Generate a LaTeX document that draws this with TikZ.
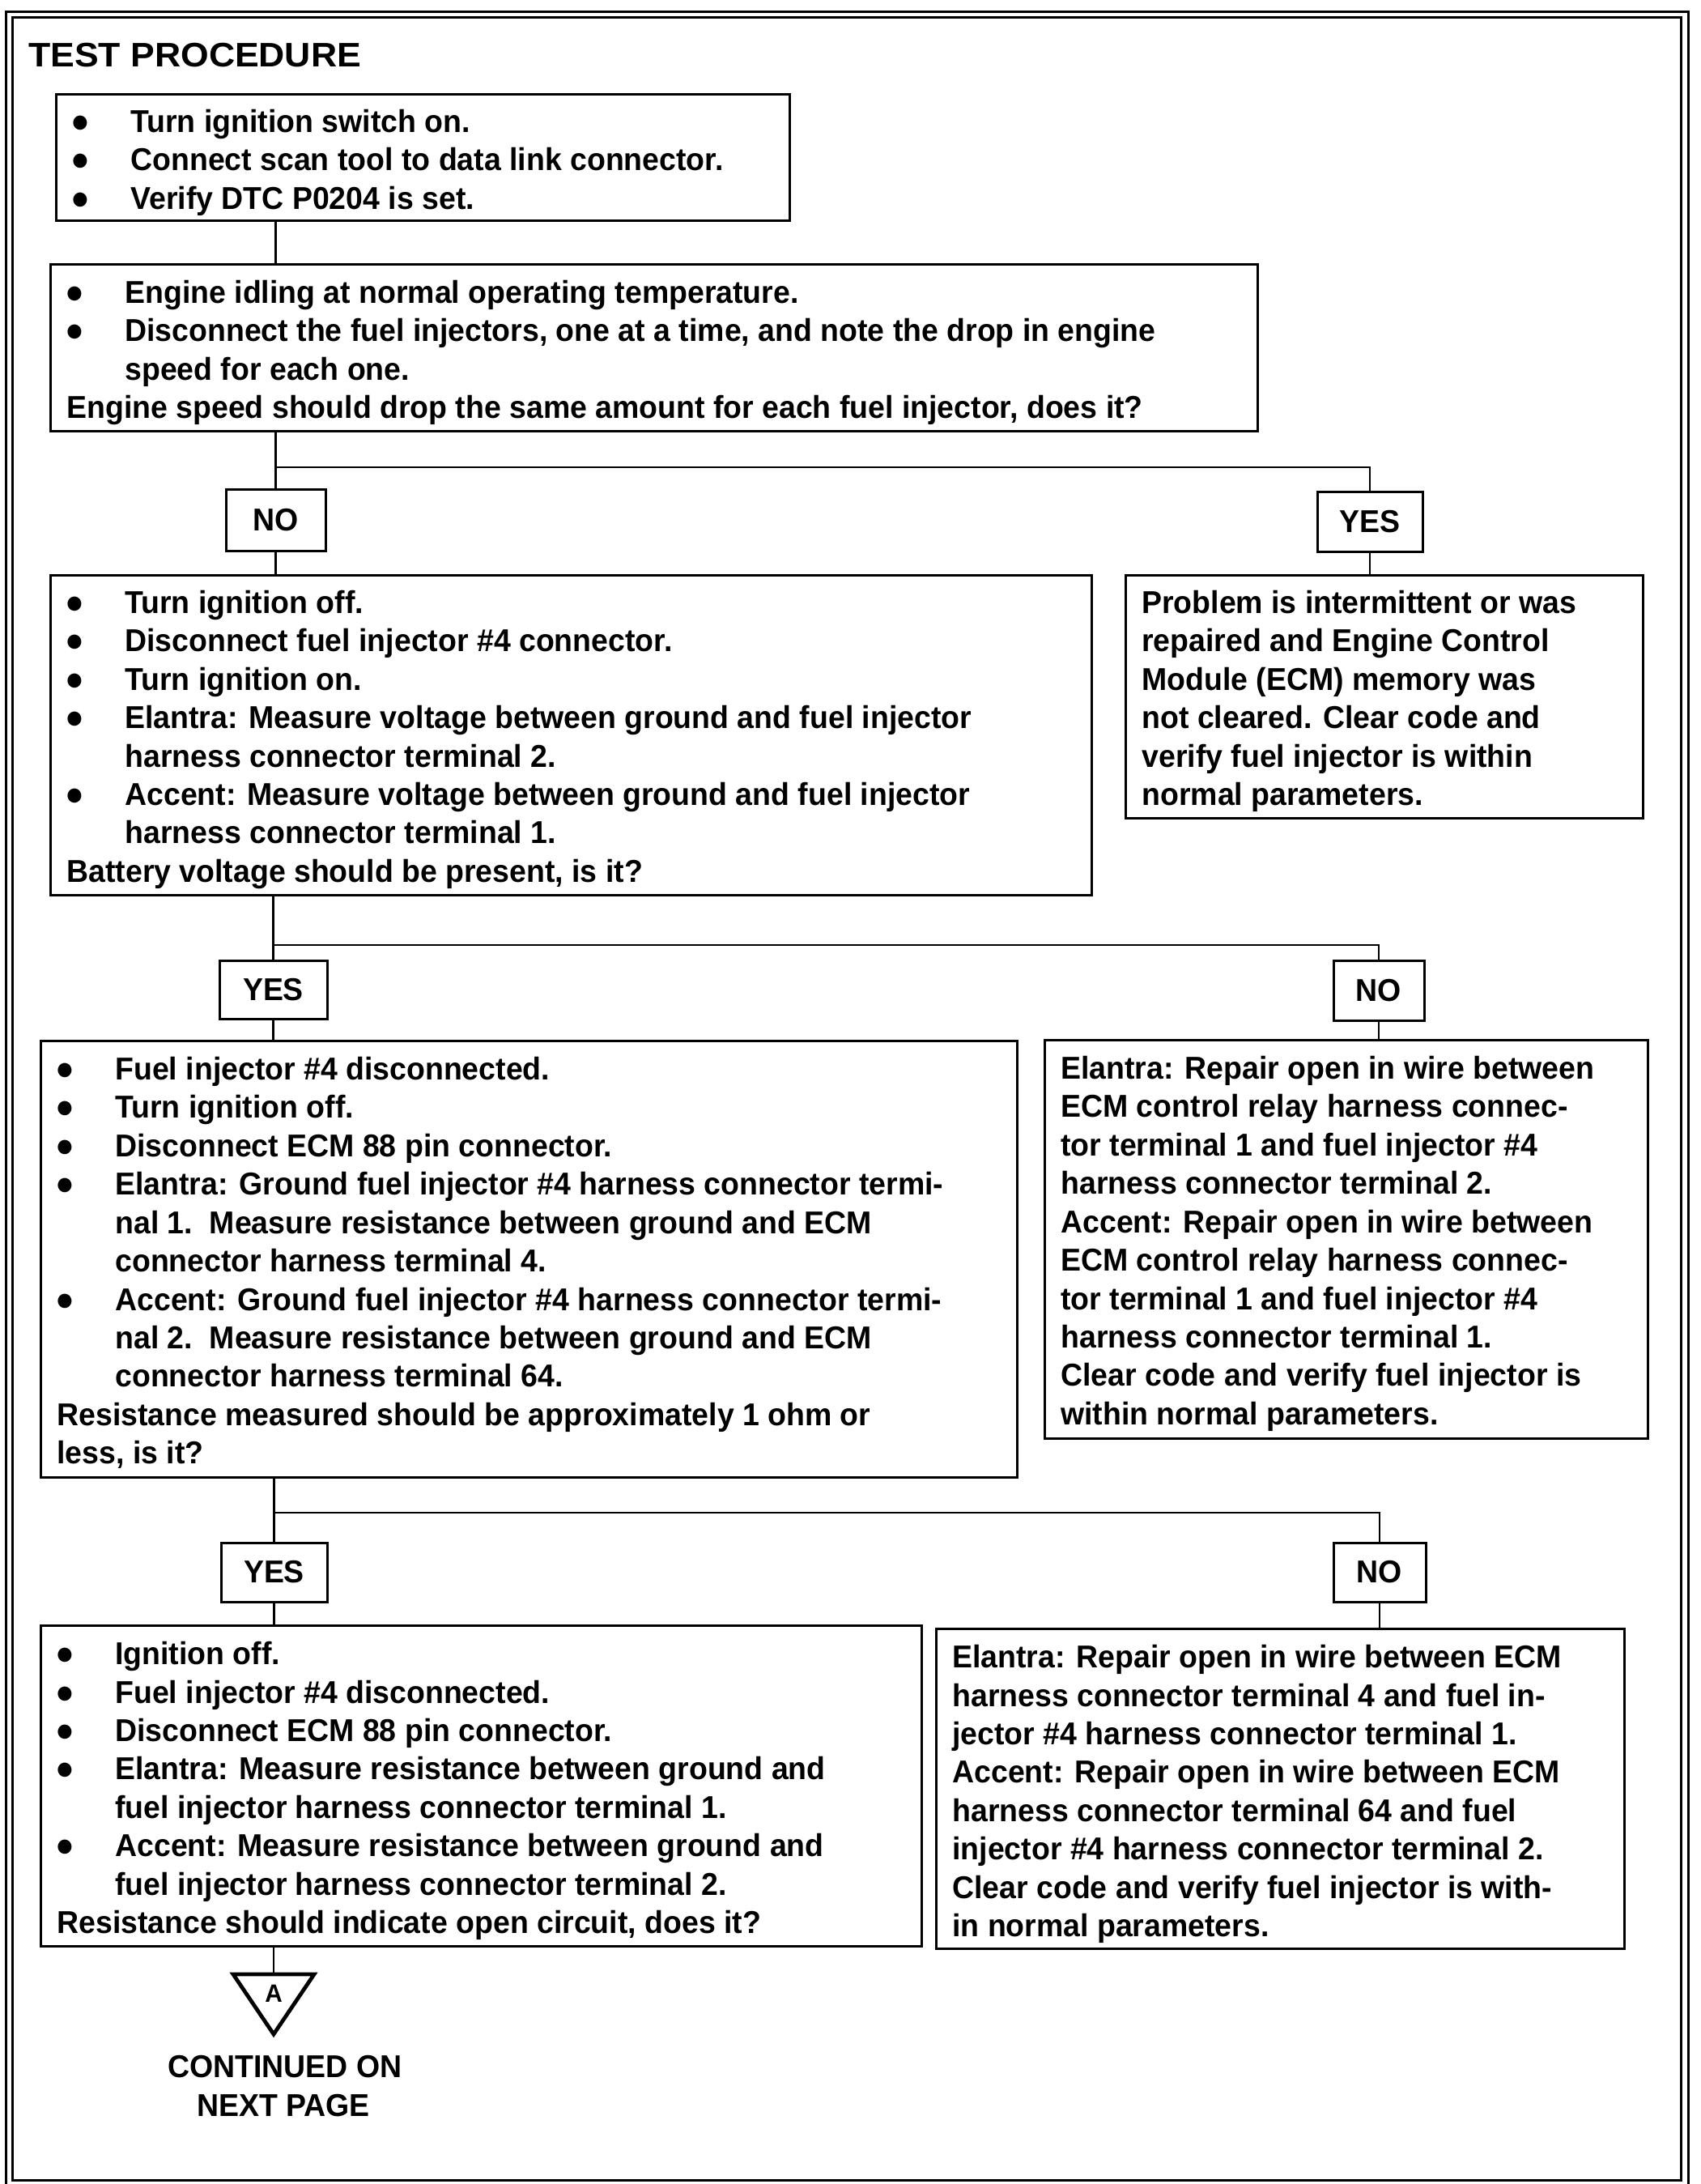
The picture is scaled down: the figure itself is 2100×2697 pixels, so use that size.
\documentclass[tikz,border=0pt]{standalone}
\usepackage{fontspec}
\setmainfont{Liberation Sans}[FakeStretch=0.96]
\newfontfamily\titlefont{Liberation Sans}[FakeStretch=1.06]
\usetikzlibrary{fit,calc}
\newcommand\mybul{\makebox[36pt][l]{\hspace{-1pt}{\fontsize{20.5}{20}\selectfont ●}}}
\newcommand\myind{\hspace*{36pt}}
\begin{document}
\begin{tikzpicture}[x=0.5pt,y=-0.5pt,
  font=\bfseries\fontsize{19.5}{23.7}\selectfont,
  box/.style={draw, line width=1.5pt, inner sep=0pt, fit={#1}},
  txt/.style={anchor=north west, align=left, inner sep=0pt},
  lab/.style={inner sep=0pt, anchor=center},
  conn/.style={line width=1.3pt},
  frame/.style={line width=1.5pt}]
\useasboundingbox (0,0) rectangle (2100,2697);
% frame
\draw[frame] (7,15) rectangle (2085,2702);
\draw[frame] (15,22) rectangle (2076,2692);
\node[anchor=base west, inner sep=0pt, font=\titlefont\bfseries\fontsize{21}{25}\selectfont] (title) at (35,83) {TEST PROCEDURE};

% boxes
\node[box={(69,117) (975,273)}] (b1) {};
\node[box={(62,326) (1553,532)}] (b2) {};
\node[box={(279,604) (402,680)}] (no1) {};
\node[box={(1627,607) (1757,681)}] (yes1) {};
\node[box={(62,710) (1348,1105)}] (b3) {};
\node[box={(1390,710) (2029,1010)}] (b4) {};
\node[box={(271,1186) (404,1258)}] (yes2) {};
\node[box={(1647,1186) (1759,1260)}] (no2) {};
\node[box={(50,1285) (1256,1824)}] (b5) {};
\node[box={(1290,1284) (2035,1776)}] (b6) {};
\node[box={(273,1905) (404,1978)}] (yes3) {};
\node[box={(1647,1905) (1761,1978)}] (no3) {};
\node[box={(50,2007) (1138,2403)}] (b7) {};
\node[box={(1156,2011) (2006,2406)}] (b8) {};

% yes/no labels
\node[lab] (no1l) at (no1.center) {NO};
\node[lab] (yes1l) at (yes1.center) {YES};
\node[lab] (yes2l) at (yes2.center) {YES};
\node[lab] (no2l) at (no2.center) {NO};
\node[lab] (yes3l) at (yes3.center) {YES};
\node[lab] (no3l) at (no3.center) {NO};

% texts
\node[txt] (t1) at (89,130) {\strut\mybul Turn ignition switch on.\\
\mybul Connect scan tool to data link connector.\\
\mybul Verify DTC P0204 is set.};

\node[txt] (t2) at (82,341) {\strut\mybul Engine idling at normal operating temperature.\\
\mybul Disconnect the fuel injectors, one at a time, and note the drop in engine\\
\myind speed for each one.\\
Engine speed should drop the same amount for each fuel injector, does it?};

\node[txt] (t3) at (82,724) {\strut\mybul Turn ignition off.\\
\mybul Disconnect fuel injector \#4 connector.\\
\mybul Turn ignition on.\\
\mybul Elantra: Measure voltage between ground and fuel injector\\
\myind harness connector terminal 2.\\
\mybul Accent: Measure voltage between ground and fuel injector\\
\myind harness connector terminal 1.\\
Battery voltage should be present, is it?};

\node[txt] (t4) at (1410,724) {\strut Problem is intermittent or was\\
repaired and Engine Control\\
Module (ECM) memory was\\
not cleared. Clear code and\\
verify fuel injector is within\\
normal parameters.};

\node[txt] (t5) at (70,1300) {\strut\mybul Fuel injector \#4 disconnected.\\
\mybul Turn ignition off.\\
\mybul Disconnect ECM 88 pin connector.\\
\mybul Elantra: Ground fuel injector \#4 harness connector termi-\\
\myind nal 1.\ \ Measure resistance between ground and ECM\\
\myind connector harness terminal 4.\\
\mybul Accent: Ground fuel injector \#4 harness connector termi-\\
\myind nal 2.\ \ Measure resistance between ground and ECM\\
\myind connector harness terminal 64.\\
Resistance measured should be approximately 1 ohm or\\
less, is it?};

\node[txt] (t6) at (1310,1299) {\strut Elantra: Repair open in wire between\\
ECM control relay harness connec-\\
tor terminal 1 and fuel injector \#4\\
harness connector terminal 2.\\
Accent: Repair open in wire between\\
ECM control relay harness connec-\\
tor terminal 1 and fuel injector \#4\\
harness connector terminal 1.\\
Clear code and verify fuel injector is\\
within normal parameters.};

\node[txt] (t7) at (70,2022) {\strut\mybul Ignition off.\\
\mybul Fuel injector \#4 disconnected.\\
\mybul Disconnect ECM 88 pin connector.\\
\mybul Elantra: Measure resistance between ground and\\
\myind fuel injector harness connector terminal 1.\\
\mybul Accent: Measure resistance between ground and\\
\myind fuel injector harness connector terminal 2.\\
Resistance should indicate open circuit, does it?};

\node[txt] (t8) at (1176,2026) {\strut Elantra: Repair open in wire between ECM\\
harness connector terminal 4 and fuel in-\\
jector \#4 harness connector terminal 1.\\
Accent: Repair open in wire between ECM\\
harness connector terminal 64 and fuel\\
injector \#4 harness connector terminal 2.\\
Clear code and verify fuel injector is with-\\
in normal parameters.};

% junction coordinates
\coordinate (j1) at (1692,577);
\coordinate (j2) at (1703,1167);
\coordinate (j3) at (1704,1868);

% connectors
\draw[conn] (b1.south -| no1.north) -- (b2.north -| no1.north);
\draw[conn] (b2.south -| no1.north) -- (no1.north);
\draw[conn] (no1.north |- j1) -| (yes1.north);
\draw[conn] (no1.south) -- (b3.north -| no1.south);
\draw[conn] (yes1.south) -- (b4.north -| yes1.south);
\draw[conn] (b3.south -| yes2.north) -- (yes2.north);
\draw[conn] (yes2.north |- j2) -| (no2.north);
\draw[conn] (yes2.south) -- (b5.north -| yes2.south);
\draw[conn] (no2.south) -- (b6.north -| no2.south);
\draw[conn] (b5.south -| yes3.north) -- (yes3.north);
\draw[conn] (yes3.north |- j3) -| (no3.north);
\draw[conn] (yes3.south) -- (b7.north -| yes3.south);
\draw[conn] (no3.south) -- (b8.north -| no3.south);

% off-page connector
\coordinate (tl) at (288,2438);
\coordinate (tr) at (388,2438);
\coordinate (ta) at (338,2512);
\coordinate (ttop) at (338,2438);
\draw[line width=2.4pt, line join=miter] (tl) -- (tr) -- (ta) -- cycle;
\node[inner sep=0pt, anchor=base, font=\bfseries\fontsize{15.5}{18}\selectfont] (A) at (338,2472) {A};
\draw[conn] (b7.south -| ttop) -- (ttop);
\node[anchor=base, inner sep=0pt] (cont1) at (352,2565) {CONTINUED ON};
\node[anchor=base, inner sep=0pt] (cont2) at (350,2613) {NEXT PAGE};
\end{tikzpicture}
\end{document}
